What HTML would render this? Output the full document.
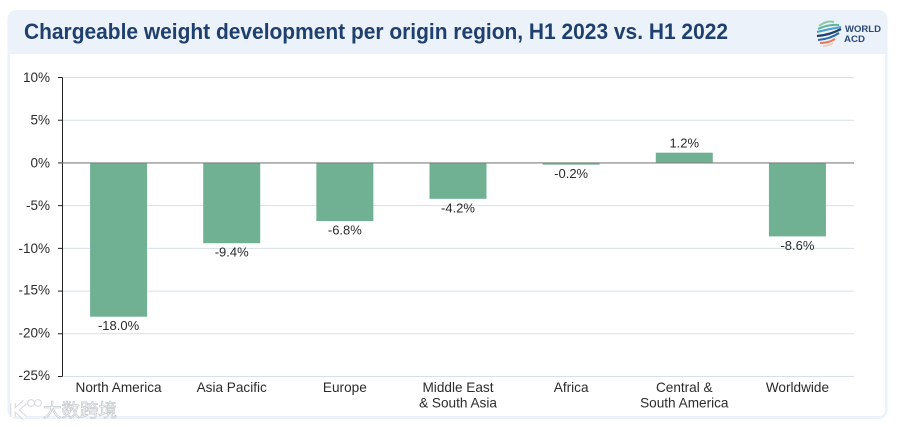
<!DOCTYPE html>
<html lang="en">
<head>
<meta charset="utf-8">
<title>Chargeable weight development per origin region</title>
<style>
html,body{margin:0;padding:0;background:#fff;width:900px;height:427px;overflow:hidden}
svg{display:block}
text{font-family:"Liberation Sans",Arial,sans-serif}
</style>
</head>
<body>
<svg id="chart" width="900" height="427" viewBox="0 0 900 427" xmlns="http://www.w3.org/2000/svg">
  <rect x="7.5" y="10" width="880" height="409" rx="9" fill="#ebf2f9"/>
  <path d="M10 54H885V411a5 5 0 0 1-5 5H15a5 5 0 0 1-5-5Z" fill="#ffffff"/>
  <text x="24" y="39" font-size="22" font-weight="700" fill="#1f3f6e" textLength="704" lengthAdjust="spacingAndGlyphs">Chargeable weight development per origin region, H1 2023 vs. H1 2022</text>
  <g>
    <path d="M819 26 Q827 20 834 22" stroke="#8cc9a4" stroke-width="2" fill="none"/>
    <path d="M818 29 Q828 24 839 25" stroke="#5fb59a" stroke-width="2" fill="none"/>
    <path d="M817 32 Q829 29 841 27" stroke="#4d9fd0" stroke-width="2" fill="none"/>
    <path d="M817 36 Q830 35 841 29" stroke="#1f3f6e" stroke-width="2.2" fill="none"/>
    <path d="M818 40 Q830 39 839 33" stroke="#2a6aa8" stroke-width="2" fill="none"/>
    <path d="M820 43 Q829 43 835 39" stroke="#e8765a" stroke-width="2" fill="none"/>
    <path d="M823 46 Q829 46 833 43" stroke="#f3c9a8" stroke-width="1.6" fill="none"/>
    <text x="845" y="32" font-size="9.5" font-weight="700" fill="#2a4a78" textLength="36" lengthAdjust="spacingAndGlyphs">WORLD</text>
    <text x="844" y="42" font-size="9.5" font-weight="700" fill="#2a4a78" textLength="21" lengthAdjust="spacingAndGlyphs">ACD</text>
  </g>
  <g id="plot"></g>
  <g>
    <path d="M13 403V417M25 402L16 410L25 418" fill="none" stroke="#d4d8dc" stroke-width="5.5"/>
    <path d="M13 403V417M25 402L16 410L25 418" fill="none" stroke="#ffffff" stroke-width="3.5"/>
    <circle cx="31" cy="403" r="3.4" fill="none" stroke="#d4d8dc" stroke-width="1"/>
    <circle cx="38" cy="403" r="3.4" fill="none" stroke="#d4d8dc" stroke-width="1"/>
    <text x="43" y="417" font-size="18.5" fill="#ffffff" stroke="#c4c8cc" stroke-width="0.7" style="font-family:'Liberation Sans','Noto Sans CJK SC',sans-serif">大数跨境</text>
  </g>
</svg>
<script>
const categories = [["North America"], ["Asia Pacific"], ["Europe"], ["Middle East", "& South Asia"], ["Africa"], ["Central &", "South America"], ["Worldwide"]];
const growthValues = [-18.0, -9.4, -6.8, -4.2, -0.2, 1.2, -8.6];
const printedValues = ["-18.0%", "-9.4%", "-6.8%", "-4.2%", "-0.2%", "1.2%", "-8.6%"];
const tickValues = [10, 5, 0, -5, -10, -15, -20, -25];
const tickLabels = ["10%", "5%", "0%", "-5%", "-10%", "-15%", "-20%", "-25%"];

const SVGNS = 'http://www.w3.org/2000/svg';
const plot = document.getElementById('plot');
const left = 62, right = 854, top10 = 77.5, bottom25 = 376.5;
const yMax = 10, yMin = -25;
const bandW = (right - left) / categories.length;
const barW = 57;
function yScale(v) { return top10 + (yMax - v) / (yMax - yMin) * (bottom25 - top10); }
function xBand(i) { return left + bandW * (i + 0.5); }
function make(tag, attrs, text) {
  const el = document.createElementNS(SVGNS, tag);
  for (const k in attrs) el.setAttribute(k, attrs[k]);
  if (text !== undefined) el.textContent = text;
  plot.appendChild(el);
  return el;
}

tickValues.forEach(function (v, i) {
  const y = yScale(v);
  if (v !== 0) {
    const grid = make('line', { x1: left, x2: right, y1: y, y2: y, stroke: '#d9dfe8', 'stroke-width': 1 });
    
    
  }
  const tick = make('line', { x1: left - 4, x2: left, y1: y, y2: y, stroke: '#222', 'stroke-width': 1 });
  
  
  const label = make('text', { x: 50, y: y + (v < -10 ? 3.5 : 4.5), 'text-anchor': 'end', 'font-size': 13.5, fill: '#2b2b2b' }, tickLabels[i]);
  
  
});

const yAxis = make('line', { x1: left + 0.5, x2: left + 0.5, y1: top10, y2: bottom25, stroke: '#222', 'stroke-width': 1 });



growthValues.forEach(function (v, i) {
  const cx = xBand(i);
  const y0 = yScale(0), yv = yScale(v);
  const bar = make('rect', { x: cx - barW / 2, y: Math.min(y0, yv), width: barW, height: Math.abs(yv - y0), fill: '#6fb192' });
  
  
  const labelY = v < 0 ? yv + 13.5 : yv - 5;
  const value = make('text', { x: cx, y: labelY, 'text-anchor': 'middle', 'font-size': 13, fill: '#2b2b2b' }, printedValues[i]);
  
  
  categories[i].forEach(function (line, j) {
    const cat = make('text', { x: cx, y: 392 + j * 15.5, 'text-anchor': 'middle', 'font-size': 13.6, fill: '#2b2b2b' }, line);
    
    
  });
});

const zeroLine = make('line', { x1: left, x2: right, y1: yScale(0), y2: yScale(0), stroke: '#808080', 'stroke-width': 1.2 });


</script>
</body>
</html>
